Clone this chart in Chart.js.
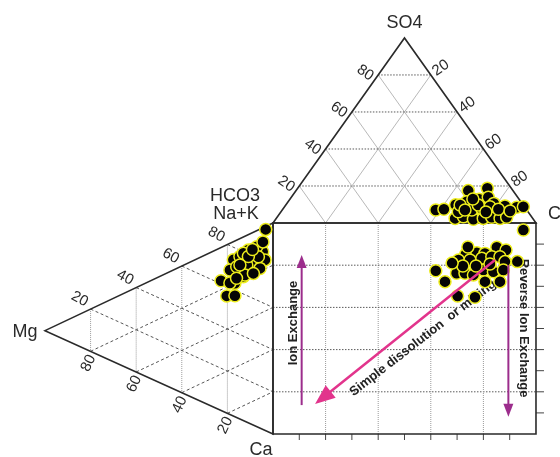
<!DOCTYPE html>
<html>
<head>
<meta charset="utf-8">
<script src="https://cdn.jsdelivr.net/npm/chart.js@4.4.1/dist/chart.umd.min.js"></script>
<style>
  html, body { margin: 0; padding: 0; background: #fff; }
  #wrap { width: 560px; height: 457px; position: relative; }
</style>
</head>
<body>
<div id="wrap"><canvas id="c"></canvas></div>
<script>
// Cation triangle samples: Na+K % and Mg % (Ca is the remainder)
const cationNaK = [95.4, 61.5, 63.3, 55.5, 57.3, 81.9, 84.2, 78.2, 74.0, 77.0, 68.5, 73.2, 68.2, 80.8, 85.3,
                   79.3, 80.6, 75.5, 74.5, 75.7, 71.5, 69.3, 71.9, 80.9, 78.8, 62.3, 88.9, 73.0, 66.0, 83.0];
const cationMg  = [3.2, 22.8, 16.7, 20.3, 16.7, 10.8, 4.5, 7.1, 17.4, 14.5, 18.9, 9.3, 13.0, 3.5, 7.1,
                   13.0, 8.6, 9.3, 11.5, 5.7, 15.9, 12.3, 8.6, 6.4, 10.8, 18.9, 4.4, 14.5, 16.0, 9.0];

// Anion triangle samples: Cl % and SO4 % (HCO3 is the remainder)
const anionCl  = [58.4, 61.3, 65.5, 72.1, 64.5, 67.9, 72.0, 74.9, 78.7, 83.6, 88.4, 90.8, 68.0, 70.7, 75.2,
                  78.7, 81.6, 85.1, 87.3, 72.1, 75.4, 78.1, 82.0, 67.4, 73.2, 66.3, 86.9, 69.5, 78.0, 69.5];
const anionSO4 = [7.0, 7.4, 17.5, 18.8, 9.9, 11.5, 12.8, 13.9, 10.6, 9.2, 8.5, 8.8, 2.5, 3.4, 2.0,
                  2.5, 3.1, 2.5, 3.1, 7.0, 7.9, 8.8, 7.4, 6.1, 9.7, 9.7, 6.5, 13.0, 5.9, 7.0];

// Central square samples (percent along each side)
const fieldX = [95.2, 61.9, 65.4, 70.2, 76.8, 73.3, 77.5, 80.6, 85.1, 88.6, 92.9, 70.5, 74.9, 79.4, 83.2,
                86.3, 88.2, 69.8, 73.0, 76.2, 80.0, 83.8, 87.6, 80.6, 86.3, 72.2, 77.2, 82.5, 68.1, 74.1];
const fieldY = [96.7, 77.4, 72.2, 65.4, 64.8, 85.2, 85.9, 85.6, 88.5, 87.2, 81.7, 82.5, 82.5, 83.3, 84.0,
                84.0, 81.7, 76.2, 76.2, 75.4, 77.7, 76.9, 77.7, 72.2, 72.2, 79.6, 79.6, 80.6, 81.0, 88.6];

// Tick values
const gridTicks = [20, 40, 60, 80];
const sideTicks = [10, 20, 30, 40, 50, 60, 70, 80, 90];
const sideLabels = ['20', '40', '60', '80'];

// Process arrows inside the square, in square percent units
const processArrows = [
  { name: 'Ion Exchange',         from: [10.9, 13.7], to: [10.9, 84.8] },
  { name: 'Reverse Ion Exchange', from: [89.5, 80.1], to: [89.5, 8.2] },
  { name: 'Simple dissolution  or mixing', from: [84.4, 82.5], to: [16.0, 14.2] }
];

// ---- diagram geometry (plot units: the square spans 0..100 on both axes) ----
const V = {
  nak:  { x: 0,     y: 100 },
  ca:   { x: 0,     y: 0 },
  mg:   { x: -86.7, y: 49 },
  hco3: { x: 0,     y: 100 },
  cl:   { x: 100,   y: 100 },
  so4:  { x: 50,    y: 187.7 }
};

function mix(parts) {
  let x = 0, y = 0;
  parts.forEach(([v, w]) => { x += v.x * w / 100; y += v.y * w / 100; });
  return { x, y };
}
const cationPt = (nak, mg) => mix([[V.nak, nak], [V.mg, mg], [V.ca, 100 - nak - mg]]);
const anionPt  = (cl, so4) => mix([[V.cl, cl], [V.so4, so4], [V.hco3, 100 - cl - so4]]);

const FONT = '"Liberation Sans", Arial, sans-serif';

function toPx(chart, p) {
  return { x: chart.scales.x.getPixelForValue(p.x), y: chart.scales.y.getPixelForValue(p.y) };
}

function seg(ctx, chart, a, b, style) {
  const A = toPx(chart, a), B = toPx(chart, b);
  ctx.save();
  ctx.strokeStyle = style.color;
  ctx.lineWidth = style.width;
  ctx.setLineDash(style.dash || []);
  ctx.beginPath();
  ctx.moveTo(A.x, A.y);
  ctx.lineTo(B.x, B.y);
  ctx.stroke();
  ctx.restore();
}

function poly(ctx, chart, pts, color, width) {
  ctx.save();
  ctx.strokeStyle = color;
  ctx.lineWidth = width;
  ctx.lineJoin = 'miter';
  ctx.beginPath();
  pts.forEach((p, i) => {
    const P = toPx(chart, p);
    if (i === 0) ctx.moveTo(P.x, P.y); else ctx.lineTo(P.x, P.y);
  });
  ctx.closePath();
  ctx.stroke();
  ctx.restore();
}

function text(ctx, str, x, y, deg, font, color, align) {
  ctx.save();
  ctx.translate(x, y);
  ctx.rotate(deg * Math.PI / 180);
  ctx.font = font;
  ctx.fillStyle = color;
  ctx.textAlign = align || 'center';
  ctx.textBaseline = 'middle';
  ctx.fillText(str, 0, 0);
  ctx.restore();
}

function arrow(ctx, chart, from, to, color, width, headLen, headW) {
  const A = toPx(chart, { x: from[0], y: from[1] });
  const B = toPx(chart, { x: to[0], y: to[1] });
  const ang = Math.atan2(B.y - A.y, B.x - A.x);
  const bx = B.x - headLen * Math.cos(ang), by = B.y - headLen * Math.sin(ang);
  ctx.save();
  ctx.strokeStyle = color;
  ctx.fillStyle = color;
  ctx.lineWidth = width;
  ctx.beginPath();
  ctx.moveTo(A.x, A.y);
  ctx.lineTo(bx + 2 * Math.cos(ang), by + 2 * Math.sin(ang));
  ctx.stroke();
  const nx = -Math.sin(ang) * headW / 2, ny = Math.cos(ang) * headW / 2;
  ctx.beginPath();
  ctx.moveTo(B.x, B.y);
  ctx.lineTo(bx + nx, by + ny);
  ctx.lineTo(bx - nx, by - ny);
  ctx.closePath();
  ctx.fill();
  ctx.restore();
}

const DOT_DARK = { color: '#5a5a5a', width: 1, dash: [1.5, 1.5] };
const SOLID_GRAY = { color: '#b0b0b0', width: 0.9 };
const DOT_GRAY = { color: '#9a9a9a', width: 1, dash: [1, 1] };
const DASH_DARK = { color: '#555', width: 1, dash: [3, 2.5] };
const OUTLINE = '#2a2a2a';
const TXT = '#2a2a2a';

const diagramPlugin = {
  id: 'diagram',
  beforeDatasetsDraw(chart) {
    const ctx = chart.ctx;

    // upper (anion) triangle grid
    gridTicks.forEach(v => {
      seg(ctx, chart, anionPt(v, 0), anionPt(v, 100 - v), SOLID_GRAY);
      seg(ctx, chart, anionPt(100 - v, 0), anionPt(0, 100 - v), SOLID_GRAY);
      seg(ctx, chart, anionPt(0, v), anionPt(100 - v, v), DOT_DARK);
    });

    // left (cation) triangle grid
    gridTicks.forEach(v => {
      seg(ctx, chart, cationPt(100 - v, v), cationPt(0, v), DOT_GRAY);
      seg(ctx, chart, cationPt(v, 100 - v), cationPt(v, 0), DASH_DARK);
      seg(ctx, chart, cationPt(0, 100 - v), cationPt(100 - v, 0), DASH_DARK);
    });

    // square grid
    gridTicks.forEach(v => {
      seg(ctx, chart, { x: v, y: 0 }, { x: v, y: 100 }, DOT_GRAY);
      seg(ctx, chart, { x: 0, y: v }, { x: 100, y: v }, DOT_DARK);
    });

    // square ticks (bottom and right)
    sideTicks.forEach(v => {
      const b = toPx(chart, { x: v, y: 0 });
      const r = toPx(chart, { x: 100, y: v });
      ctx.save();
      ctx.strokeStyle = '#444'; ctx.lineWidth = 1;
      ctx.beginPath();
      ctx.moveTo(b.x, b.y); ctx.lineTo(b.x, b.y + 6);
      ctx.moveTo(r.x, r.y); ctx.lineTo(r.x + 8, r.y);
      ctx.stroke();
      ctx.restore();
    });

    // outlines
    poly(ctx, chart, [V.hco3, V.so4, V.cl], OUTLINE, 1.6);
    poly(ctx, chart, [V.nak, V.mg, V.ca], OUTLINE, 1.6);
    poly(ctx, chart, [{ x: 0, y: 0 }, { x: 0, y: 100 }, { x: 100, y: 100 }, { x: 100, y: 0 }], OUTLINE, 1.6);

    // side tick labels
    const tf = '15px ' + FONT;
    gridTicks.forEach((v, i) => {
      const lbl = sideLabels[i];
      let p = toPx(chart, anionPt(0, v));
      text(ctx, lbl, p.x - 13, p.y - 2, 35, tf, TXT);
      p = toPx(chart, anionPt(v, 100 - v));
      text(ctx, lbl, p.x + 10, p.y - 7, -35, tf, TXT);
      p = toPx(chart, cationPt(v, 100 - v));
      text(ctx, lbl, p.x - 11, p.y - 10, 28, tf, TXT);
      p = toPx(chart, cationPt(0, v));
      text(ctx, lbl, p.x - 2, p.y + 12, -65, tf, TXT);
    });

    // vertex labels
    const vf = '18px ' + FONT;
    let p = toPx(chart, V.so4);
    text(ctx, 'SO4', p.x, p.y - 15, 0, vf, TXT);
    p = toPx(chart, V.nak);
    text(ctx, 'HCO3', p.x - 38, p.y - 27, 0, vf, TXT);
    text(ctx, 'Na+K', p.x - 37, p.y - 9, 0, vf, TXT);
    p = toPx(chart, V.cl);
    text(ctx, 'Cl', p.x + 12, p.y - 9, 0, vf, TXT, 'left');
    p = toPx(chart, V.mg);
    text(ctx, 'Mg', p.x - 20, p.y + 1, 0, vf, TXT);
    p = toPx(chart, V.ca);
    text(ctx, 'Ca', p.x - 12, p.y + 16, 0, vf, TXT);

    // process labels
    const bf = 'bold 13px ' + FONT;
    p = toPx(chart, { x: 7.8, y: 52.6 });
    text(ctx, processArrows[0].name, p.x, p.y, -90, bf, '#222');
    p = toPx(chart, { x: 95.1, y: 50.2 });
    text(ctx, processArrows[1].name, p.x, p.y, 90, bf, '#222');
    p = toPx(chart, { x: 57.0, y: 45.5 });
    text(ctx, processArrows[2].name, p.x, p.y, -37.8, bf, '#222');
  },
  afterDatasetsDraw(chart) {
    const ctx = chart.ctx;
    arrow(ctx, chart, processArrows[0].from, processArrows[0].to, '#9c2d8c', 2, 13, 10);
    arrow(ctx, chart, processArrows[1].from, processArrows[1].to, '#9c2d8c', 2, 13, 10);
    arrow(ctx, chart, processArrows[2].from, processArrows[2].to, '#e2348c', 2.5, 20, 16);
  }
};

const pointStyle = {
  showLine: false,
  pointRadius: 6,
  pointBackgroundColor: '#050505',
  pointBorderColor: '#eded1c',
  pointBorderWidth: 1.5,
  clip: false
};

new Chart(document.getElementById('c'), {
  type: 'scatter',
  data: {
    datasets: [
      Object.assign({ label: 'Cations', data: cationNaK.map((n, i) => cationPt(n, cationMg[i])) }, pointStyle),
      Object.assign({ label: 'Anions', data: anionCl.map((c, i) => anionPt(c, anionSO4[i])) }, pointStyle),
      Object.assign({ label: 'Field', data: fieldX.map((x, i) => ({ x, y: fieldY[i] })) }, pointStyle)
    ]
  },
  options: {
    responsive: true,
    maintainAspectRatio: false,
    animation: false,
    events: [],
    layout: { padding: 0, autoPadding: false },
    scales: {
      x: { type: 'linear', min: -103.8, max: 109.13, display: false },
      y: { type: 'linear', min: -10.9, max: 205.69, display: false }
    },
    plugins: { legend: { display: false }, tooltip: { enabled: false } }
  },
  plugins: [diagramPlugin]
});
</script>
</body>
</html>
